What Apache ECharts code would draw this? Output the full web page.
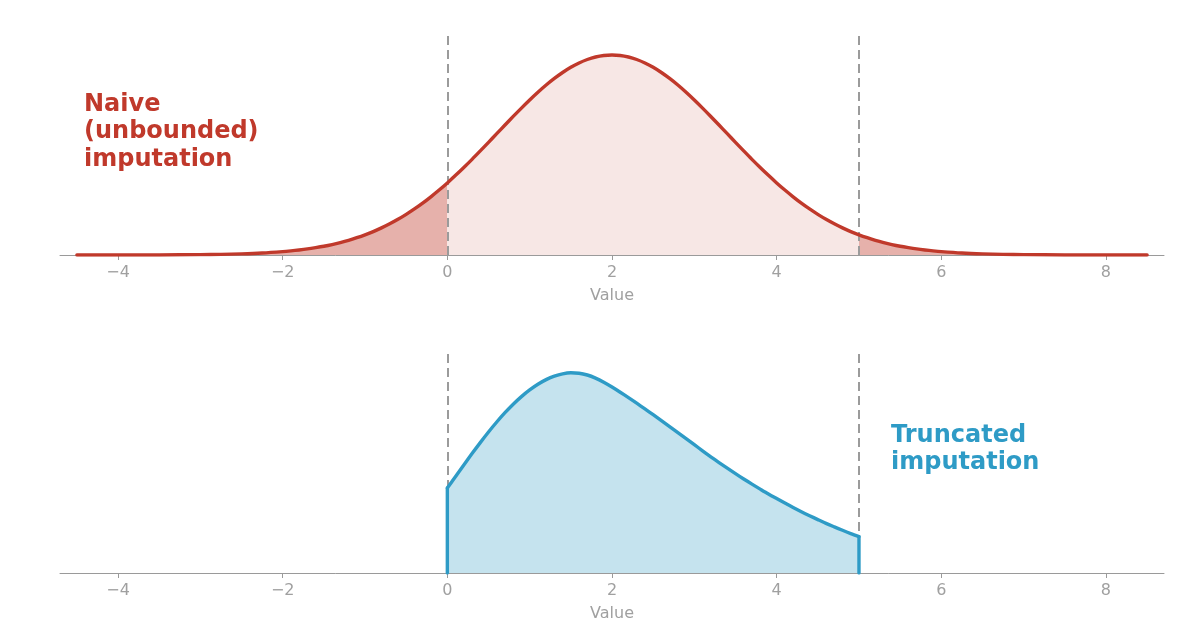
<!DOCTYPE html>
<html>
<head>
<meta charset="utf-8">
<script src="https://cdn.jsdelivr.net/npm/echarts@6/dist/echarts.min.js"></script>
<style>
html,body{margin:0;padding:0;background:#fff;}
#chart{width:1200px;height:630px;}
</style>
</head>
<body>
<div id="chart"></div>
<script>
// ---- Data ----
const naiveX = [-4.5,-4,-3.5,-3,-2.75,-2.5,-2.25,
  -2,-1.9,-1.8,-1.7,-1.6,-1.5,-1.4,-1.3,-1.2,-1.1,-1,-0.9,-0.8,-0.7,-0.6,-0.5,-0.4,-0.3,-0.2,-0.1,
  0,0.1,0.2,0.3,0.4,0.5,0.6,0.7,0.8,0.9,1,1.1,1.2,1.3,1.4,1.5,1.6,1.7,1.8,1.9,
  2,2.1,2.2,2.3,2.4,2.5,2.6,2.7,2.8,2.9,3,3.1,3.2,3.3,3.4,3.5,3.6,3.7,3.8,3.9,
  4,4.1,4.2,4.3,4.4,4.5,4.6,4.7,4.8,4.9,5,5.1,5.2,5.3,5.4,5.5,5.6,5.7,5.8,5.9,6,
  6.25,6.5,6.75,7,7.5,8,8.5];
const naiveY = [0,0,0.0001,0.0005,0.0009,0.0016,0.0028,
  0.0048,0.0059,0.0072,0.0087,0.0105,0.0125,0.0149,0.0177,0.0209,0.0246,0.0287,0.0333,0.0386,0.0444,0.0508,0.0579,0.0656,0.0739,0.0829,0.0925,
  0.1027,0.1135,0.1247,0.1363,0.1483,0.1605,0.1729,0.1852,0.1974,0.2093,0.2208,0.2318,0.2421,0.2515,0.2600,0.2674,0.2736,0.2785,0.2821,0.2843,
  0.2850,0.2843,0.2821,0.2785,0.2736,0.2674,0.2600,0.2515,0.2421,0.2318,0.2208,0.2093,0.1974,0.1852,0.1729,0.1605,0.1483,0.1363,0.1247,0.1135,
  0.1027,0.0925,0.0829,0.0739,0.0656,0.0579,0.0508,0.0444,0.0386,0.0333,0.0287,0.0246,0.0209,0.0177,0.0149,0.0125,0.0105,0.0087,0.0072,0.0059,0.0048,
  0.0028,0.0016,0.0009,0.0005,0.0001,0,0];
const truncX = [0,0.1,0.2,0.3,0.4,0.5,0.6,0.7,0.8,0.9,1,1.1,1.2,1.3,1.4,1.5,1.6,1.7,1.8,1.9,
  2,2.1,2.2,2.3,2.4,2.5,2.6,2.7,2.8,2.9,3,3.1,3.2,3.3,3.4,3.5,3.6,3.7,3.8,3.9,
  4,4.1,4.2,4.3,4.4,4.5,4.6,4.7,4.8,4.9,5];
const truncY = [0.0850,0.0966,0.1081,0.1194,0.1304,0.1410,0.1510,0.1603,0.1688,0.1764,
  0.1831,0.1888,0.1934,0.1969,0.1992,0.2002,0.1998,0.1980,0.1949,0.1908,
  0.1860,0.1808,0.1754,0.1698,0.1641,0.1583,0.1524,0.1464,0.1404,0.1344,
  0.1283,0.1222,0.1162,0.1104,0.1048,0.0993,0.0940,0.0889,0.0839,0.0790,
  0.0744,0.0699,0.0655,0.0613,0.0573,0.0534,0.0496,0.0461,0.0427,0.0394,0.0363];
const bounds = [0, 5];
const tickValues = [-4,-2,0,2,4,6,8];
const axisName = 'Value';
const naiveLabel = 'Naive\n(unbounded)\nimputation';
const truncLabel = 'Truncated\nimputation';

// ---- Build ----
const RED = '#c0392b', BLUE = '#2e9bc6';
const FONT = '"DejaVu Sans", sans-serif';
const SMOOTH = 0.3;
const naivePts = naiveX.map((x,i)=>[x, naiveY[i]]);
const truncPts = truncX.map((x,i)=>[x, truncY[i]]);
const leftTail = naivePts.filter(p=>p[0] <= bounds[0]);
const middle = naivePts.filter(p=>p[0] >= bounds[0] && p[0] <= bounds[1]);
const rightTail = naivePts.filter(p=>p[0] >= bounds[1]);

function fmt(v){ return v < 0 ? '\u2212' + Math.abs(v) : String(v); }

function xAxis(gridIndex){
  return {
    type:'value', gridIndex, min:-4.705, max:8.705,
    name: axisName, nameLocation:'middle', nameGap:33,
    nameTextStyle:{color:'#a0a0a0', fontSize:16, fontFamily:FONT},
    axisLine:{show:true, onZero:false, lineStyle:{color:'#9a9a9a', width:1}},
    axisTick:{show:true, length:5, customValues:tickValues, lineStyle:{color:'#9a9a9a'}},
    axisLabel:{show:true, margin:10, customValues:tickValues, formatter:fmt, color:'#a0a0a0', fontSize:16, fontFamily:FONT},
    splitLine:{show:false}
  };
}
function yAxis(gridIndex, max){
  return {type:'value', gridIndex, min:0, max, show:false, splitLine:{show:false}};
}
const dashLine = () => ({
  silent:true, symbol:['none','none'], label:{show:false}, z:2,
  lineStyle:{color:'#9b9b9b', type:[9,5], width:2},
  emphasis:{disabled:true},
  data: bounds.map(b=>({xAxis:b}))
});

const areaSeries = (data, color, gi, z, extra) => Object.assign({
  type:'line', xAxisIndex:gi, yAxisIndex:gi, data, smooth:SMOOTH, symbol:'none',
  lineStyle:{width:0}, areaStyle:{color, opacity:1, origin:0}, z, animation:false, silent:true
}, extra||{});

const lineSeries = (data, color, gi, extra) => Object.assign({
  type:'line', xAxisIndex:gi, yAxisIndex:gi, data, smooth:SMOOTH, symbol:'none',
  lineStyle:{color, width:3.4, join:'round', cap:'round'}, z:4, animation:false, silent:true
}, extra||{});

const option = {
  animation:false,
  backgroundColor:'#fff',
  grid:[
    {left:60, right:36, top:36, height:219},
    {left:60, right:36, top:354, height:219}
  ],
  xAxis:[xAxis(0), xAxis(1)],
  yAxis:[yAxis(0, 0.312), yAxis(1, 0.219)],
  series:[
    areaSeries(leftTail, '#e6b1ab', 0, 1),
    areaSeries(rightTail, '#e6b1ab', 0, 1),
    areaSeries(middle, '#f7e7e5', 0, 1, {markLine: dashLine()}),
    lineSeries(naivePts, RED, 0),
    areaSeries(truncPts, '#c5e3ee', 1, 1, {markLine: dashLine()}),
    lineSeries(truncPts, BLUE, 1),
    lineSeries([[truncX[0],0],[truncX[0],truncY[0]]], BLUE, 1, {smooth:false}),
    lineSeries([[truncX[truncX.length-1],0],[truncX[truncX.length-1],truncY[truncY.length-1]]], BLUE, 1, {smooth:false})
  ],
  graphic:[
    {type:'text', left:84, top:91, z:10, style:{text:naiveLabel, fill:RED, font:'bold 24px ' + FONT, lineHeight:27.5}},
    {type:'text', left:891, top:422, z:10, style:{text:truncLabel, fill:BLUE, font:'bold 24px ' + FONT, lineHeight:27.5}}
  ]
};
const chart = echarts.init(document.getElementById('chart'), null, {renderer:'canvas'});
chart.setOption(option);
</script>
</body>
</html>
